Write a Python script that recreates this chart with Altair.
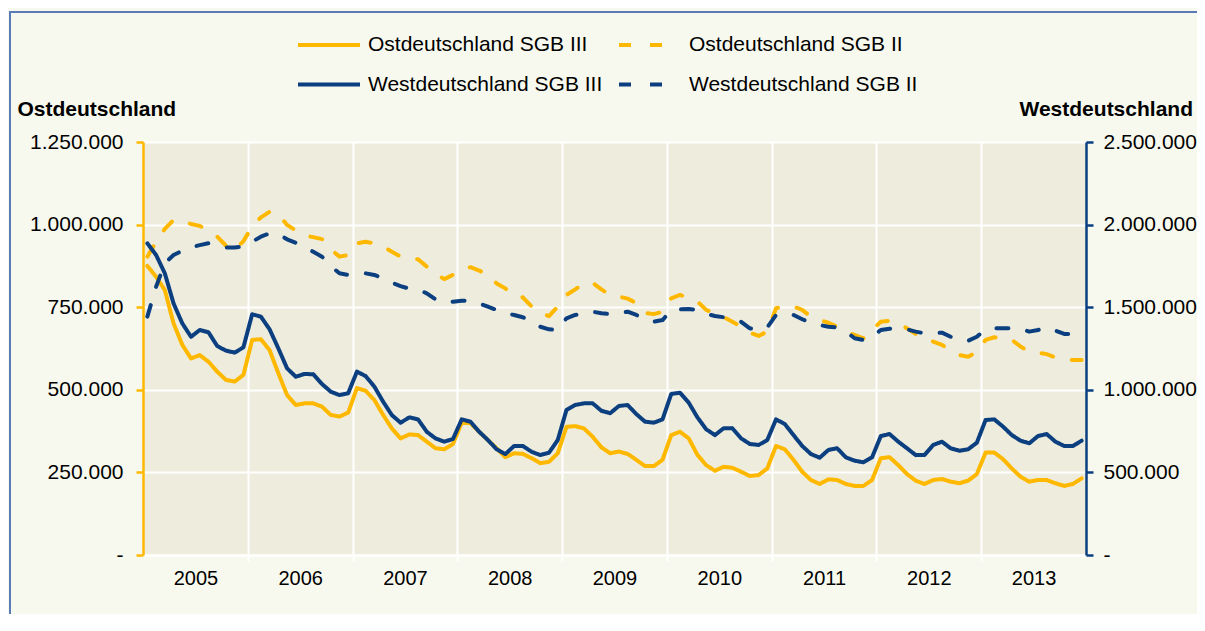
import altair as alt
import pandas as pd

# ---------------- data (monthly, Jan 2005 - Dec 2013, values in thousands) ----------------
years = list(range(2005, 2014))

# legend order (vega fills legend columns first): col 1 = SGB III, col 2 = SGB II
series_names = [
    "Ostdeutschland SGB III",
    "Westdeutschland SGB III",
    "Ostdeutschland SGB II",
    "Westdeutschland SGB II",
]

ost_sgb3 = [
    875, 842, 802, 701, 636, 595, 605, 585, 555, 530, 525, 545,
    651, 653, 620, 550, 484, 454, 459, 459, 449, 424, 419, 431,
    505, 497, 469, 424, 383, 353, 365, 363, 343, 323, 320, 336,
    400, 399, 373, 348, 323, 296, 308, 306, 293, 278, 282, 308,
    388, 390, 383, 358, 326, 308, 313, 306, 288, 269, 269, 288,
    363, 373, 353, 303, 272, 255, 267, 264, 252, 239, 242, 262,
    330, 320, 288, 252, 227, 215, 229, 227, 215, 209, 209, 227,
    293, 296, 272, 245, 225, 215, 227, 230, 222, 217, 225, 245,
    310, 310, 290, 262, 237, 222, 227, 227, 217, 209, 215, 232,
]

ost_sgb2 = [
    903, 948, 987, 1014, 1010, 1002, 996, 982, 964, 936, 923, 950,
    994, 1022, 1039, 1032, 999, 982, 967, 962, 956, 925, 903, 908,
    943, 948, 943, 933, 918, 903, 898, 895, 873, 851, 835, 848,
    863, 871, 861, 848, 822, 807, 785, 780, 752, 732, 723, 752,
    787, 804, 822, 824, 804, 787, 782, 776, 762, 733, 729, 736,
    777, 787, 779, 767, 742, 730, 720, 706, 691, 673, 663, 676,
    747, 752, 752, 742, 721, 711, 703, 691, 676, 666, 656, 681,
    706, 709, 701, 686, 669, 656, 646, 636, 619, 605, 600, 615,
    651, 659, 656, 651, 631, 615, 612, 608, 598, 593, 590, 590,
]

west_sgb3 = [
    1887, 1816, 1705, 1523, 1402, 1321, 1362, 1348, 1265, 1237, 1225, 1257,
    1457, 1443, 1366, 1251, 1130, 1079, 1096, 1094, 1035, 989, 968, 979,
    1110, 1083, 1019, 928, 847, 801, 833, 821, 746, 706, 686, 702,
    821, 807, 746, 696, 640, 611, 660, 660, 625, 605, 619, 696,
    878, 908, 918, 918, 873, 858, 902, 908, 853, 807, 801, 821,
    975, 982, 922, 833, 761, 726, 767, 767, 706, 672, 666, 696,
    821, 793, 726, 660, 611, 589, 636, 646, 591, 571, 561, 591,
    720, 732, 686, 646, 605, 605, 666, 686, 646, 631, 640, 680,
    817, 821, 777, 726, 692, 676, 720, 732, 686, 660, 660, 692,
]

west_sgb2 = [
    1443, 1624, 1766, 1816, 1842, 1862, 1876, 1887, 1876, 1862, 1862, 1866,
    1896, 1927, 1947, 1943, 1911, 1890, 1862, 1836, 1806, 1749, 1705, 1695,
    1701, 1705, 1695, 1675, 1648, 1628, 1612, 1608, 1584, 1548, 1527, 1533,
    1539, 1539, 1523, 1503, 1483, 1463, 1453, 1439, 1418, 1382, 1366, 1362,
    1433, 1453, 1459, 1473, 1463, 1459, 1463, 1473, 1453, 1427, 1412, 1422,
    1483, 1487, 1489, 1483, 1459, 1447, 1439, 1427, 1412, 1372, 1362, 1378,
    1453, 1463, 1453, 1427, 1406, 1392, 1382, 1378, 1352, 1312, 1301, 1321,
    1362, 1370, 1366, 1366, 1352, 1342, 1342, 1346, 1321, 1301, 1297, 1321,
    1366, 1372, 1372, 1372, 1370, 1352, 1362, 1378, 1358, 1338, 1338, 1338,
]

left_ticks = [0, 250000, 500000, 750000, 1000000, 1250000]
right_ticks = [0, 500000, 1000000, 1500000, 2000000, 2500000]

# ---------------- table ----------------
series_values = {
    "Ostdeutschland SGB III": ost_sgb3,
    "Ostdeutschland SGB II": ost_sgb2,
    "Westdeutschland SGB III": west_sgb3,
    "Westdeutschland SGB II": west_sgb2,
}
rows = []
for name, vals in series_values.items():
    for i, v in enumerate(vals):
        rows.append({"idx": i, "value": v * 1000, "series": name,
                     "region": name.split()[0]})
df = pd.DataFrame(rows)
n_months = 12 * len(years)

# ---------------- style ----------------
YELLOW = "#FFB800"
BLUE = "#0B3F80"
FONT = "Liberation Sans"
OUTER_BG = "#F8F9EE"
PLOT_BG = "#EEECDC"
FRAME = "#5B7BB7"

num_expr = "datum.value == 0 ? '-' : replace(format(datum.value, ','), /,/g, '.')"

year_centers = [12 * k + 5.5 for k in range(len(years))]
year_bounds = [12 * k - 0.5 for k in range(1, len(years))]
is_bound = "(datum.value + 0.5) % 12 == 0"

x_enc = alt.X(
    "idx:Q",
    scale=alt.Scale(domain=[-0.5, n_months - 0.5], nice=False, zero=False),
    axis=alt.Axis(
        values=year_centers + year_bounds,
        title=None,
        labelExpr=f"(datum.value + 0.5) % 12 == 6 ? '' + ({years[0]} + floor(datum.value / 12)) : ''",
        grid=True, gridColor="white", gridWidth=2,
        gridOpacity={"condition": {"test": is_bound, "value": 1}, "value": 0},
        tickOpacity={"condition": {"test": is_bound, "value": 1}, "value": 0},
        tickColor="white", tickWidth=2, tickSize=6,
        domainColor="white", domainWidth=2,
        labelFont=FONT, labelFontSize=20, labelColor="black",
        labelPadding=7.5, labelFlush=False, labelOverlap=False, labelBound=False,
    ),
)

# long horizontal line symbol (custom path, scaled by sqrt(size)/2)
legend = alt.Legend(
    title=None, orient="none", legendX=153, legendY=-109, columns=2,
    symbolType="M-3.1,0H3.1", symbolSize=400, symbolStrokeWidth=4,
    symbolOffset=21,
    labelFont=FONT, labelFontSize=21, labelColor="black", labelLimit=0,
    labelOffset=27, columnPadding=8, rowPadding=17.5, padding=0,
)

dash_of = {"Ostdeutschland SGB III": [1, 0], "Westdeutschland SGB III": [1, 0],
           "Ostdeutschland SGB II": [12, 19], "Westdeutschland SGB II": [12, 19]}
color_of = {"Ostdeutschland SGB III": YELLOW, "Ostdeutschland SGB II": YELLOW,
            "Westdeutschland SGB III": BLUE, "Westdeutschland SGB II": BLUE}

color = alt.Color("series:N", scale=alt.Scale(domain=series_names,
                  range=[color_of[s] for s in series_names]), legend=legend)
dash = alt.StrokeDash("series:N", scale=alt.Scale(domain=series_names,
                      range=[dash_of[s] for s in series_names]), legend=legend)

left_axis = alt.Axis(
    orient="left", values=left_ticks, labelExpr=num_expr,
    labelFont=FONT, labelFontSize=21, labelColor="black", labelPadding=13,
    domainColor=YELLOW, domainWidth=2.5, tickColor=YELLOW, tickWidth=2.5, tickSize=7,
    grid=True, gridColor="white", gridWidth=2, gridOpacity=1,
    title="Ostdeutschland", titleAngle=0, titleAlign="left", titleBaseline="alphabetic",
    titleX=-126, titleY=-27, titleFont=FONT, titleFontSize=21, titleFontWeight="bold",
    titleColor="black",
)
right_axis = alt.Axis(
    orient="right", values=right_ticks, labelExpr=num_expr,
    labelFont=FONT, labelFontSize=21, labelColor="black", labelPadding=10,
    domainColor=BLUE, domainWidth=2.5, tickColor=BLUE, tickWidth=2.5, tickSize=7,
    grid=False,
    title="Westdeutschland", titleAngle=0, titleAlign="left", titleBaseline="alphabetic",
    titleX=-67, titleY=-27, titleFont=FONT, titleFontSize=21, titleFontWeight="bold",
    titleColor="black",
)

line_style = dict(strokeWidth=4, strokeCap="round", strokeJoin="round")

frame = alt.Chart(pd.DataFrame({"f": [0]})).mark_rect(
    fillOpacity=0, stroke=FRAME, strokeWidth=2
).encode(x=alt.value(-133), x2=alt.value(1100), y=alt.value(-130), y2=alt.value(600))

ost = alt.Chart(df[df.region == "Ostdeutschland"]).mark_line(**line_style).encode(
    x=x_enc,
    y=alt.Y("value:Q", scale=alt.Scale(domain=[0, 1250000], nice=False), axis=left_axis),
    color=color, strokeDash=dash,
)
west = alt.Chart(df[df.region == "Westdeutschland"]).mark_line(**line_style).encode(
    x=x_enc,
    y=alt.Y("value:Q", scale=alt.Scale(domain=[0, 2500000], nice=False), axis=right_axis),
    color=color, strokeDash=dash,
)

chart = alt.layer(frame, ost, west).resolve_scale(y="independent").properties(
    width=943, height=413,
    padding={"left": 135, "top": 134, "right": 111, "bottom": 59},
    autosize=alt.AutoSizeParams(type="none"),
    background=OUTER_BG,
).configure_view(fill=PLOT_BG, stroke=None)

chart.save("out.html", embed_options={"renderer": "svg", "actions": False})
